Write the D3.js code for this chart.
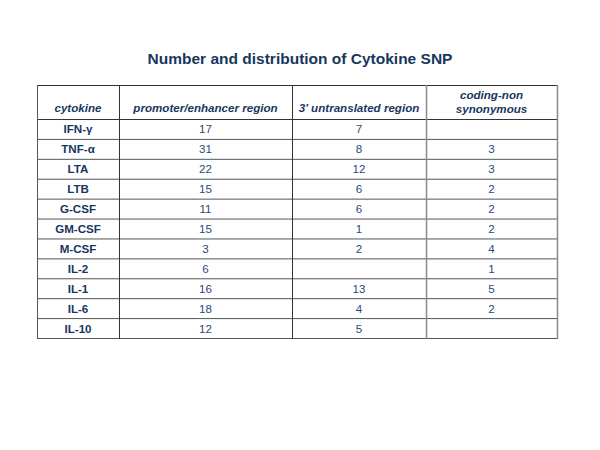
<!DOCTYPE html>
<html><head><meta charset="utf-8">
<script src="https://cdn.jsdelivr.net/npm/d3@7"></script>
<style>body{margin:0;background:#fff}svg{display:block}</style>
</head><body>
<script>
const title = "Number and distribution of Cytokine SNP";
const headers = [["cytokine"], ["promoter/enhancer region"], ["3\u2019 untranslated region"], ["coding-non", "synonymous"]];
const cytokines = ["IFN-\u03b3", "TNF-\u03b1", "LTA", "LTB", "G-CSF", "GM-CSF", "M-CSF", "IL-2", "IL-1", "IL-6", "IL-10"];
const promoter = [17, 31, 22, 15, 11, 15, 3, 6, 16, 18, 12];
const utr = [7, 8, 12, 6, 6, 1, 2, null, 13, 4, 5];
const coding = [null, 3, 3, 2, 2, 2, 4, 1, 5, 2, null];

const W = 600, H = 450;
const svg = d3.select("body").append("svg").attr("width", W).attr("height", H);
const navy = "#17375e";
const font = "'Liberation Sans', Arial, sans-serif";

const colEdges = [37, 119, 292, 426, 557];
const tableTop = 85, headBottom = 119, tableBottom = 338;
const y = d3.scaleBand().domain(cytokines).range([headBottom, tableBottom]);

svg.append("text").attr("x", 300).attr("y", 64).attr("text-anchor", "middle")
  .attr("font-family", font).attr("font-weight", "bold").attr("font-size", 15.5)
  .attr("fill", navy).text(title);

// header
headers.forEach((lines, i) => {
  const cx = (colEdges[i] + colEdges[i + 1]) / 2;
  const t = svg.append("text").attr("text-anchor", "middle").attr("font-family", font)
    .attr("font-weight", "bold").attr("font-style", "italic").attr("font-size", 11.6).attr("fill", navy);
  if (lines.length === 1) {
    t.attr("x", cx).attr("y", 112).text(lines[0]);
  } else {
    lines.forEach((l, k) => t.append("tspan").attr("x", cx).attr("y", 99 + k * 13.5).text(l));
  }
});

const cols = [cytokines, promoter, utr, coding];
cols.forEach((vals, i) => {
  const cx = (colEdges[i] + colEdges[i + 1]) / 2;
  svg.append("g").selectAll("text").data(cytokines).join("text")
    .attr("x", cx).attr("y", d => y(d) + y.bandwidth() / 2 + 4.5)
    .attr("text-anchor", "middle").attr("font-family", font).attr("font-size", 11.6)
    .attr("font-weight", i === 0 ? "bold" : "normal")
    .attr("fill", i === 0 ? navy : "#2b4a75")
    .text((d, j) => vals[j] == null ? "" : vals[j]);
});

// grid lines
const hLines = [tableTop, headBottom].concat(cytokines.map(c => y(c) + y.bandwidth()));
svg.append("g").selectAll("line").data(hLines).join("line")
  .attr("x1", colEdges[0]).attr("x2", colEdges[4])
  .attr("y1", d => d + 0.5).attr("y2", d => d + 0.5)
  .attr("stroke", (d, i) => i < 2 ? "#333" : "#555").attr("stroke-width", 1);
const vColors = ["#555", "#333", "#333", "#8a8a8a", "#8a8a8a"];
svg.append("g").selectAll("line").data(colEdges).join("line")
  .attr("x1", d => d + 0.5).attr("x2", d => d + 0.5)
  .attr("y1", tableTop).attr("y2", tableBottom + 1)
  .attr("stroke", (d, i) => vColors[i]).attr("stroke-width", (d, i) => i >= 3 ? 1.5 : 1);
</script>
</body></html>
